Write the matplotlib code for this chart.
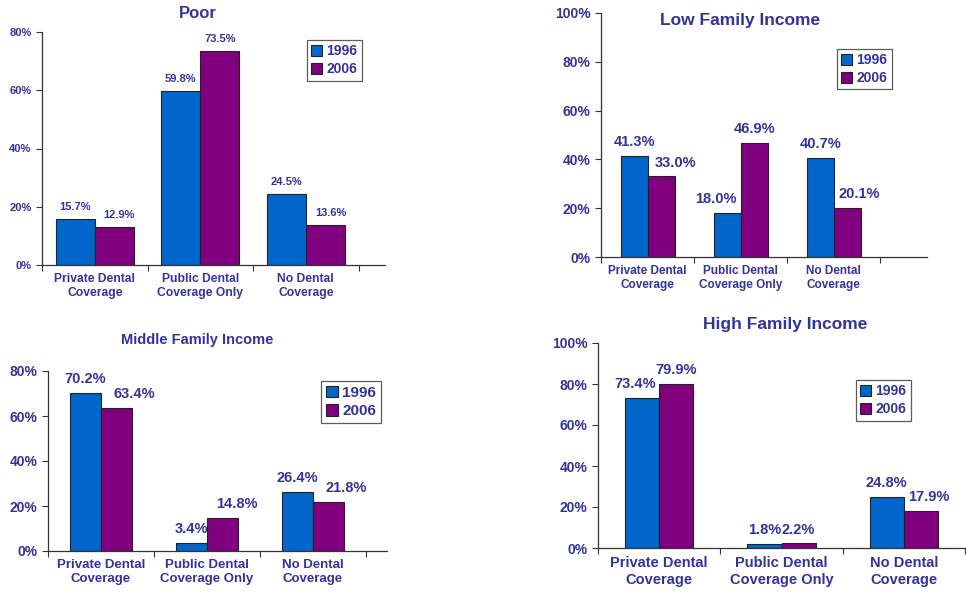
import numpy as np
import matplotlib
matplotlib.use('Agg')
import matplotlib.pyplot as plt
from matplotlib.patches import Patch

plt.rcParams['font.family'] = ['Liberation Sans', 'DejaVu Sans']
plt.rcParams['font.weight'] = 'bold'

categories = ['Private Dental\nCoverage', 'Public Dental\nCoverage Only', 'No Dental\nCoverage']
years = ['1996', '2006']

poor_1996 = [15.7, 59.8, 24.5]
poor_2006 = [12.9, 73.5, 13.6]
low_1996 = [41.3, 18.0, 40.7]
low_2006 = [33.0, 46.9, 20.1]
middle_1996 = [70.2, 3.4, 26.4]
middle_2006 = [63.4, 14.8, 21.8]
high_1996 = [73.4, 1.8, 24.8]
high_2006 = [79.9, 2.2, 17.9]

BLUE = '#0066CC'
PURPLE = '#800080'
TXT = '#333399'

W, H = 966, 601
fig = plt.figure(figsize=(W / 100, H / 100), dpi=100)


def px_axes(left, top, right, bottom):
    return fig.add_axes([left / W, 1 - bottom / H, (right - left) / W, (bottom - top) / H])


# per panel: pixel box, axis limits, bar width, font sizes, title, legend box,
# and horizontal nudges (px) of the value labels as in the original
panels = [
    dict(box=(42, 32, 385, 265), ymax=80, xmax=2.75, bw=0.37, tick=8, lab=8, cat=8.7,
         title='Poor', tfs=12, tpos=(198, 14), leg=(307, 40, 363, 83), lfs=10,
         a=poor_1996, b=poor_2006, na=[0, 0, 0], nb=[5, 0, 6]),
    dict(box=(601, 13, 927, 257), ymax=100, xmax=3.0, bw=0.29, tick=10, lab=10.5, cat=8.5,
         title='Low Family Income', tfs=12.5, tpos=(740, 20), leg=(837, 49, 893, 92), lfs=10,
         a=low_1996, b=low_2006, na=[0, -11, 0], nb=[14, 0, 12]),
    dict(box=(48, 371, 387, 551), ymax=80, xmax=2.7, bw=0.29, tick=10, lab=10.5, cat=9.5,
         title='Middle Family Income', tfs=10.5, tpos=(197, 340), leg=(321, 381, 381, 417), lfs=11,
         a=middle_1996, b=middle_2006, na=[0, 0, 0], nb=[18, 15, 18]),
    dict(box=(598, 343, 965, 548), ymax=100, xmax=2.47, bw=0.28, tick=10, lab=10.5, cat=10.5,
         title='High Family Income', tfs=12.5, tpos=(785, 325), leg=(856, 380, 902, 423), lfs=10,
         a=high_1996, b=high_2006, na=[-7, 0, 0], nb=[0, 0, 8]),
]

x = np.arange(len(categories))

for p in panels:
    ax = px_axes(*p['box'])
    bw = p['bw']
    ax.bar(x - bw / 2, p['a'], bw, color=BLUE, edgecolor='#222222', linewidth=0.8, label=years[0])
    ax.bar(x + bw / 2, p['b'], bw, color=PURPLE, edgecolor='#222222', linewidth=0.8, label=years[1])

    for xs, vals, nudge in [(x - bw / 2, p['a'], p['na']), (x + bw / 2, p['b'], p['nb'])]:
        for xi, v, dx in zip(xs, vals, nudge):
            ax.annotate(f'{v:.1f}%', (xi, v), xytext=(dx * 0.72, 5), textcoords='offset points',
                        ha='center', va='bottom', fontsize=p['lab'], color=TXT, fontweight='bold')

    ax.set_ylim(0, p['ymax'])
    ax.set_xlim(-0.5, p['xmax'])
    ax.set_yticks(np.arange(0, p['ymax'] + 1, 20))
    ax.set_yticklabels([f'{t}%' for t in range(0, p['ymax'] + 1, 20)])
    ax.set_xticks(x)
    ax.set_xticklabels(categories)
    ax.set_xticks(np.arange(-0.5, len(categories)), minor=True)
    ax.tick_params(axis='x', which='major', length=0, pad=6, labelsize=p['cat'], labelcolor=TXT)
    ax.tick_params(axis='x', which='minor', length=4, width=0.8, direction='out', color='#333333')
    ax.tick_params(axis='y', length=4, width=0.8, direction='out', color='#333333',
                   labelsize=p['tick'], labelcolor=TXT)
    for s in ['top', 'right']:
        ax.spines[s].set_visible(False)
    for s in ['left', 'bottom']:
        ax.spines[s].set_color('#333333')
        ax.spines[s].set_linewidth(0.9)

    fig.text(p['tpos'][0] / W, 1 - p['tpos'][1] / H, p['title'], ha='center', va='center',
             fontsize=p['tfs'], color=TXT, fontweight='bold')

    l, t, r, b = p['leg']
    handles = [Patch(facecolor=BLUE, edgecolor='#222222', linewidth=0.8),
               Patch(facecolor=PURPLE, edgecolor='#222222', linewidth=0.8)]
    leg = ax.legend(handles, years, loc='upper left',
                    bbox_to_anchor=(l / W, 1 - t / H), bbox_transform=fig.transFigure,
                    fontsize=p['lfs'], frameon=True, fancybox=False, handlelength=0.8,
                    handleheight=0.8, handletextpad=0.3, borderpad=0.3, labelspacing=0.3,
                    borderaxespad=0)
    leg.get_frame().set_edgecolor('#333333')
    leg.get_frame().set_linewidth(0.9)
    for tx in leg.get_texts():
        tx.set_color(TXT)
        tx.set_fontweight('bold')

fig.savefig('out.png', dpi=100, facecolor='white')
